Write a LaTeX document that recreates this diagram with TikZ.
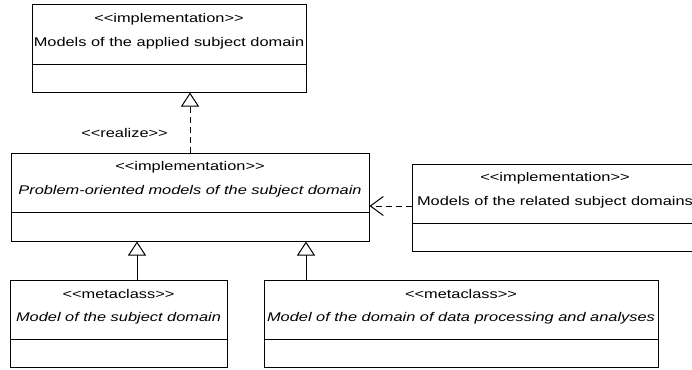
\documentclass[tikz,border=0pt]{standalone}
\usepackage{fontspec}
\setmainfont{Liberation Sans}[FakeStretch=1.3]
\usetikzlibrary{arrows.meta, shadows}
\newcommand{\stereo}[1]{<{}<#1>{}>}

\begin{document}
\begin{tikzpicture}[x=1pt, y=-1pt,
  classbox/.style={draw, line width=1pt, fill=white, inner sep=0pt,
    drop shadow={shadow xshift=1.2pt, shadow yshift=-1.2pt, opacity=.35}},
  lbl/.style={font=\fontsize{12.6}{14}\selectfont, inner sep=0pt},
  divide/.style={line width=1pt},
  general/.style={line width=1pt, -{Triangle[open, length=14pt, width=18pt]}},
  realize/.style={general, dash pattern=on 6pt off 4pt},
  depend/.style={line width=1pt, dash pattern=on 6pt off 4pt,
    -{Straight Barb[length=13pt, width=19pt]}}]
\useasboundingbox (0,0) rectangle (692,369);

\node[classbox, minimum width=274pt, minimum height=87pt] (apd) at (169,48.5) {};
\draw[divide] (apd.west |- 0,64) -- (apd.east |- 0,64);
\node[lbl] (apd-st) at (169,19) {\stereo{implementation}};
\node[lbl] (apd-nm) at (169,43) {Models of the applied subject domain};

\node[classbox, minimum width=358pt, minimum height=88pt] (pom) at (190,197) {};
\draw[divide] (pom.west |- 0,212) -- (pom.east |- 0,212);
\node[lbl] (pom-st) at (190,167) {\stereo{implementation}};
\node[lbl] (pom-nm) at (190,191) {\itshape Problem-oriented models of the subject domain};

\node[classbox, minimum width=286pt, minimum height=87pt] (rel) at (555,207.5) {};
\draw[divide] (rel.west |- 0,223) -- (rel.east |- 0,223);
\node[lbl] (rel-st) at (555,178) {\stereo{implementation}};
\node[lbl] (rel-nm) at (555,202) {Models of the related subject domains};

\node[classbox, minimum width=217pt, minimum height=87pt] (msd) at (118.5,323.5) {};
\draw[divide] (msd.west |- 0,339) -- (msd.east |- 0,339);
\node[lbl] (msd-st) at (118.5,294) {\stereo{metaclass}};
\node[lbl] (msd-nm) at (118.5,318) {\itshape Model of the subject domain};

\node[classbox, minimum width=394pt, minimum height=87pt] (dpa) at (461,323.5) {};
\draw[divide] (dpa.west |- 0,339) -- (dpa.east |- 0,339);
\node[lbl] (dpa-st) at (461,294) {\stereo{metaclass}};
\node[lbl] (dpa-nm) at (461,318) {\itshape Model of the domain of data processing and analyses};

\coordinate (r) at (190,0);
\coordinate (g1) at (137,0);
\coordinate (g2) at (306,0);
\coordinate (d) at (0,206);

\draw[realize] (r |- pom.north) -- (r |- apd.south);
\node[lbl, anchor=east] (rlz) at (168,133) {\stereo{realize}};
\draw[depend] (rel.west |- d) -- (pom.east |- d);
\draw[general] (g1 |- msd.north) -- (g1 |- pom.south);
\draw[general] (g2 |- dpa.north) -- (g2 |- pom.south);
\end{tikzpicture}
\end{document}
